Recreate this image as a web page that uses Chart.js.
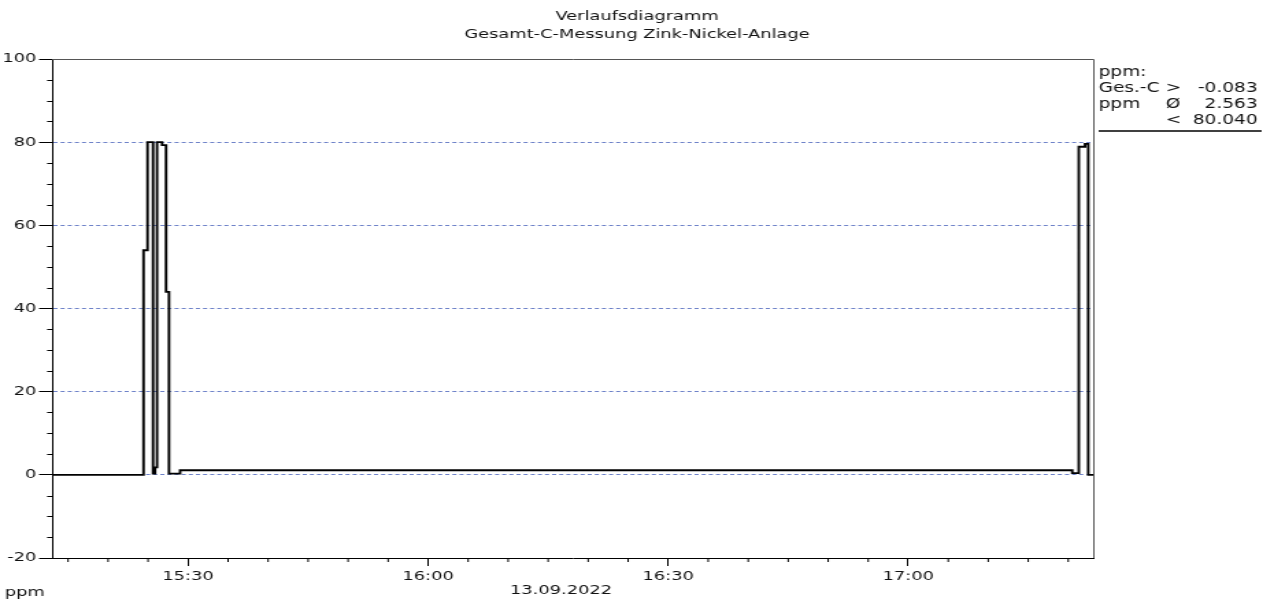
<!DOCTYPE html>
<html>
<head>
<meta charset="utf-8">
<script src="https://cdn.jsdelivr.net/npm/chart.js@4.4.1/dist/chart.umd.min.js"></script>
<style>
html,body{margin:0;padding:0;background:#fff;overflow:hidden}
/* das Original ist horizontal gestreckt */
#wrap{width:930px;height:600px;transform:scaleX(1.36989);transform-origin:0 0}
</style>
</head>
<body>
<div id="wrap"><canvas id="verlauf" width="930" height="600"></canvas></div>
<script>
// Messwerte Ges.-C (Uhrzeit -> ppm), Treppenkurve
const zeiten = ['15:13:00','15:24:26','15:24:56','15:25:37','15:25:52','15:26:07','15:26:45','15:27:15','15:27:37','15:28:45','15:29:00',
                '17:20:30','17:21:19','17:22:06','17:22:30','17:23:07'];
const ppmWerte = [0, 54, 80, 0.3, 1.8, 80, 79.3, 44, 0.3, 0.3, 1.1,
                  0.4, 78.9, 79.6, 0, 0];
const xStart = '15:13:00';
const xEnde = '17:23:07';
const yMin = -20, yMax = 100;
const titelZeilen = ['Verlaufsdiagramm', 'Gesamt-C-Messung Zink-Nickel-Anlage'];
const legendeZeilen = [['ppm:', '', ''], ['Ges.-C', '>', '-0.083'], ['ppm', '\u00d8', '2.563'], ['', '<', '80.040']];
const datum = '13.09.2022';
const einheit = 'ppm';

const schrift = '"DejaVu Sans", Verdana, sans-serif';
const textFarbe = '#111';
const gitterFarbe = '#6f83c9';

function minuten(t) {
    let [h, m, s] = t.split(':').map(Number);
    return h * 60 + m + s / 60;
}
function hhmm(v) {
    let h = Math.floor(v / 60), m = Math.round(v - h * 60);
    return h + ':' + (m < 10 ? '0' + m : m);
}

const rahmen = {
    id: 'rahmen',
    beforeDatasetsDraw(chart) {
        const ctx = chart.ctx, a = chart.chartArea;
        const xs = chart.scales.x, ys = chart.scales.y;
        ctx.save();
        ctx.strokeStyle = '#000';
        ctx.lineWidth = 1;
        ctx.beginPath();
        // kleine Striche y alle 5 ppm
        for (let v = yMin + 5; v < yMax; v += 5) {
            if (v % 20 == 0) continue;
            let y = Math.round(ys.getPixelForValue(v)) + 0.5;
            ctx.moveTo(a.left - 3.6, y);
            ctx.lineTo(a.left, y);
        }
        // kleine Striche x alle 5 min
        for (let v = Math.ceil(xs.min / 5) * 5; v < xs.max; v += 5) {
            if (v % 30 == 0) continue;
            let x = xs.getPixelForValue(v);
            ctx.moveTo(x, a.bottom);
            ctx.lineTo(x, a.bottom + 4);
        }
        ctx.stroke();
        // oben + rechts
        ctx.strokeStyle = '#555';
        ctx.beginPath();
        ctx.moveTo(a.left, a.top + 0.5);
        ctx.lineTo(a.right + 0.5, a.top + 0.5);
        ctx.lineTo(a.right + 0.5, a.bottom);
        ctx.stroke();
        ctx.restore();
    },
    afterDraw(chart) {
        const ctx = chart.ctx;
        ctx.save();
        ctx.fillStyle = textFarbe;
        ctx.font = '13px ' + schrift;
        ctx.textBaseline = 'middle';
        ctx.textAlign = 'center';
        ctx.fillText(titelZeilen[0], chart.width / 2, 17);
        ctx.fillText(titelZeilen[1], chart.width / 2, 35);
        ctx.fillText(datum, 409.5, 591);
        ctx.textAlign = 'left';
        ctx.fillText(einheit, 3.6, 593);
        ctx.font = '13.5px ' + schrift;
        let zy = [72, 88, 104, 120];
        legendeZeilen.forEach((z, i) => {
            ctx.textAlign = 'left';
            ctx.fillText(z[0], 802, zy[i]);
            ctx.fillText(z[1], 851, zy[i]);
            ctx.textAlign = 'right';
            ctx.fillText(z[2], 918, zy[i]);
        });
        ctx.strokeStyle = '#000';
        ctx.lineWidth = 1.5;
        ctx.beginPath();
        ctx.moveTo(802, 131);
        ctx.lineTo(921, 131);
        ctx.stroke();
        ctx.restore();
    }
};

new Chart(document.getElementById('verlauf'), {
    type: 'line',
    data: {
        datasets: [{
            label: 'Ges.-C',
            data: zeiten.map((t, i) => ({x: minuten(t), y: ppmWerte[i]})),
            stepped: 'before',
            borderColor: '#000',
            borderWidth: 1.9,
            fill: false,
            pointRadius: 0
        }]
    },
    options: {
        responsive: false,
        animation: false,
        layout: {padding: {top: 59, right: 132, left: 0, bottom: 0}},
        plugins: {
            legend: {display: false},
            tooltip: {enabled: false},
            title: {display: false}
        },
        scales: {
            x: {
                type: 'linear',
                min: minuten(xStart),
                max: minuten(xEnde),
                afterFit: s => { s.height = 42; },
                ticks: {
                    stepSize: 30,
                    includeBounds: false,
                    autoSkip: false,
                    maxRotation: 0,
                    padding: 3,
                    color: textFarbe,
                    font: {family: schrift, size: 13},
                    callback: v => hhmm(v)
                },
                grid: {drawOnChartArea: false, drawTicks: true, tickLength: 8, tickColor: '#000', color: '#000'},
                border: {color: '#000', width: 1}
            },
            y: {
                min: yMin,
                max: yMax,
                afterFit: s => { s.width = 38; },
                ticks: {
                    stepSize: 20,
                    padding: 2,
                    color: textFarbe,
                    font: {family: schrift, size: 13}
                },
                grid: {
                    color: c => (c.tick && c.tick.value > yMin && c.tick.value < yMax) ? gitterFarbe : 'rgba(0,0,0,0)',
                    tickColor: '#000',
                    tickLength: 9.5,
                    lineWidth: 1
                },
                border: {color: '#000', width: 1, dash: [3, 2.2]}
            }
        }
    },
    plugins: [rahmen]
});
</script>
</body>
</html>
